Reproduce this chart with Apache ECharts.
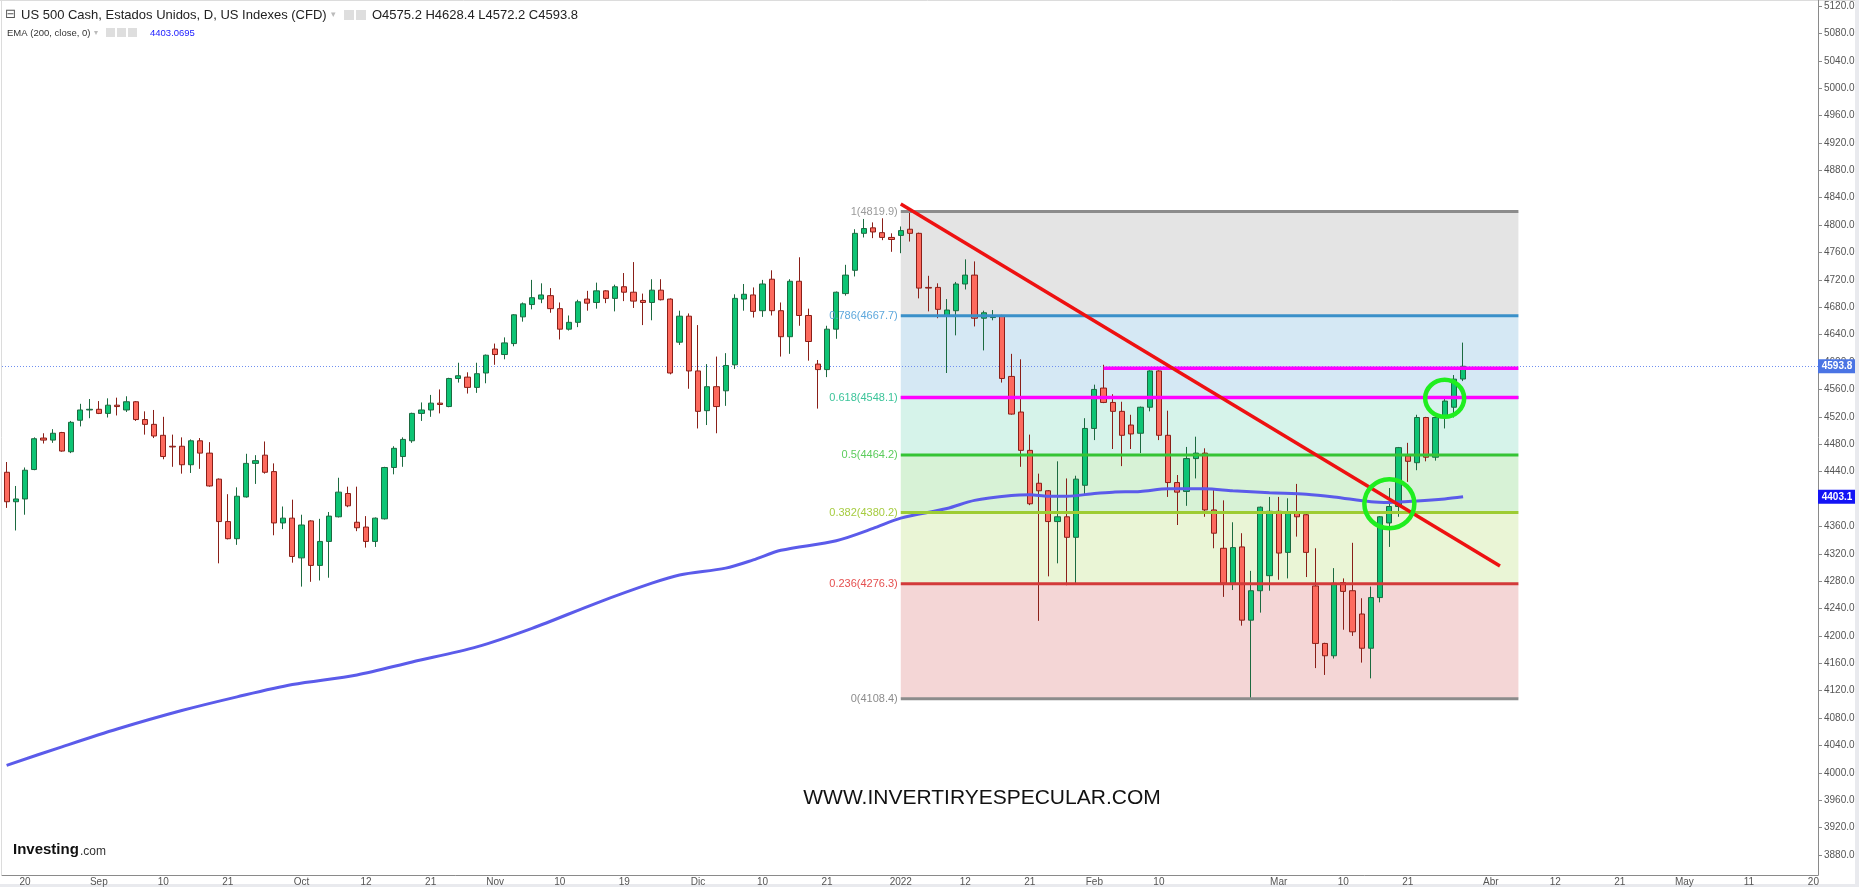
<!DOCTYPE html>
<html><head><meta charset="utf-8">
<script src="https://cdn.jsdelivr.net/npm/echarts@6.0.0/dist/echarts.min.js"></script>
<style>html,body{margin:0;padding:0;background:#fff;}#c{width:1859px;height:887px;}</style>
</head><body><div id="c"></div>
<script>
// ---------- DATA ----------
const tradeDates = [
'2021-08-18','2021-08-19','2021-08-20','2021-08-23','2021-08-24','2021-08-25','2021-08-26','2021-08-27','2021-08-30','2021-08-31',
'2021-09-01','2021-09-02','2021-09-03','2021-09-06','2021-09-07','2021-09-08','2021-09-09','2021-09-10','2021-09-13','2021-09-14','2021-09-15','2021-09-16','2021-09-17','2021-09-20','2021-09-21','2021-09-22','2021-09-23','2021-09-24','2021-09-27','2021-09-28','2021-09-29','2021-09-30',
'2021-10-01','2021-10-04','2021-10-05','2021-10-06','2021-10-07','2021-10-08','2021-10-11','2021-10-12','2021-10-13','2021-10-14','2021-10-15','2021-10-18','2021-10-19','2021-10-20','2021-10-21','2021-10-22','2021-10-25','2021-10-26','2021-10-27','2021-10-28','2021-10-29',
'2021-11-01','2021-11-02','2021-11-03','2021-11-04','2021-11-05','2021-11-08','2021-11-09','2021-11-10','2021-11-11','2021-11-12','2021-11-15','2021-11-16','2021-11-17','2021-11-18','2021-11-19','2021-11-22','2021-11-23','2021-11-24','2021-11-25','2021-11-26','2021-11-29','2021-11-30',
'2021-12-01','2021-12-02','2021-12-03','2021-12-06','2021-12-07','2021-12-08','2021-12-09','2021-12-10','2021-12-13','2021-12-14','2021-12-15','2021-12-16','2021-12-17','2021-12-20','2021-12-21','2021-12-22','2021-12-23','2021-12-27','2021-12-28','2021-12-29','2021-12-30','2021-12-31',
'2022-01-03','2022-01-04','2022-01-05','2022-01-06','2022-01-07','2022-01-10','2022-01-11','2022-01-12','2022-01-13','2022-01-14','2022-01-17','2022-01-18','2022-01-19','2022-01-20','2022-01-21','2022-01-24','2022-01-25','2022-01-26','2022-01-27','2022-01-28','2022-01-31',
'2022-02-01','2022-02-02','2022-02-03','2022-02-04','2022-02-07','2022-02-08','2022-02-09','2022-02-10','2022-02-11','2022-02-14','2022-02-15','2022-02-16','2022-02-17','2022-02-18','2022-02-21','2022-02-22','2022-02-23','2022-02-24','2022-02-25','2022-02-28',
'2022-03-01','2022-03-02','2022-03-03','2022-03-04','2022-03-07','2022-03-08','2022-03-09','2022-03-10','2022-03-11','2022-03-14','2022-03-15','2022-03-16','2022-03-17','2022-03-18','2022-03-21','2022-03-22','2022-03-23','2022-03-24','2022-03-25','2022-03-28','2022-03-29'];
const futureDates = ['2022-03-30','2022-03-31',
'2022-04-01','2022-04-04','2022-04-05','2022-04-06','2022-04-07','2022-04-08','2022-04-11','2022-04-12','2022-04-13','2022-04-14','2022-04-15','2022-04-18','2022-04-19','2022-04-20','2022-04-21','2022-04-22','2022-04-25','2022-04-26','2022-04-27','2022-04-28','2022-04-29',
'2022-05-02','2022-05-03','2022-05-04','2022-05-05','2022-05-06','2022-05-09','2022-05-10','2022-05-11','2022-05-12','2022-05-13','2022-05-16','2022-05-17','2022-05-18','2022-05-19','2022-05-20'];

const open = [4439,4396,4400,4443,4489,4486,4497,4469,4515,4530,
4531,4525,4537,4530,4542,4516,4509,4493,4477,4477,4450,4485,4467,4429,4367,4342,4403,4452,4464,4440,4365,4372,
4314,4368,4303,4338,4374,4408,4366,4359,4338,4371,4446,4462,4485,4525,4530,4540,4535,4576,4578,4563,4584,
4619,4611,4627,4666,4684,4692,4697,4678,4648,4658,4692,4687,4704,4693,4710,4702,4690,4687,4705,4692,4629,4667,
4587,4529,4564,4558,4596,4692,4698,4675,4721,4675,4637,4718,4668,4597,4589,4648,4700,4734,4788,4796,4789,4782,
4785,4794,4788,4709,4709,4667,4675,4714,4727,4664,4665,4667,4579,4527,4471,4423,4412,4367,4374,4344,4420,
4503,4562,4541,4528,4508,4496,4534,4587,4493,4424,4411,4459,4467,4384,4328,4277,4330,4223,4266,4288,
4382,4322,4379,4377,4273,4189,4171,4278,4266,4232,4182,4256,4365,4389,4463,4453,4519,4461,4519,4534,4575.2];
const high = [4454,4419,4446,4490,4496,4502,4498,4514,4539,4546,
4543,4547,4548,4550,4543,4528,4530,4520,4494,4490,4487,4489,4483,4430,4407,4417,4466,4464,4484,4452,4389,4399,
4377,4369,4371,4381,4431,4418,4418,4375,4373,4447,4477,4490,4526,4541,4552,4560,4577,4599,4585,4599,4611,
4627,4636,4670,4687,4720,4715,4708,4687,4668,4691,4704,4716,4705,4713,4730,4746,4700,4721,4721,4693,4675,4671,
4654,4597,4608,4613,4699,4714,4709,4720,4734,4687,4721,4753,4678,4603,4653,4703,4742,4794,4809,4804,4810,4788,
4798,4819.9,4789,4726,4715,4692,4717,4750,4747,4675,4676,4669,4612,4604,4494,4437,4413,4455,4430,4434,4518,
4567,4596,4553,4542,4523,4535,4588,4588,4529,4435,4476,4491,4474,4416,4398,4366,4350,4295,4389,4403,
4403,4401,4422,4378,4328,4190,4299,4284,4336,4255,4272,4375,4416,4476,4482,4523,4520,4523,4546,4581,4628.4];
const low = [4387,4354,4377,4442,4481,4482,4469,4467,4506,4518,
4524,4519,4522,4527,4514,4494,4489,4458,4447,4437,4438,4444,4418,4306,4341,4333,4402,4422,4437,4347,4356,4307,
4272,4279,4281,4285,4373,4388,4353,4329,4330,4370,4436,4447,4482,4514,4520,4525,4534,4570,4554,4555,4569,
4596,4604,4623,4659,4677,4686,4672,4633,4646,4651,4675,4678,4686,4674,4689,4679,4654,4661,4690,4582,4625,4561,
4503,4508,4496,4536,4590,4675,4665,4666,4668,4608,4612,4653,4602,4532,4578,4634,4697,4725,4782,4781,4778,4761,
4759,4776,4693,4674,4664,4584,4639,4706,4652,4617,4661,4570,4523,4447,4391,4222,4287,4306,4274,4277,4406,
4486,4540,4473,4448,4473,4467,4528,4486,4403,4362,4390,4430,4374,4328,4257,4267,4215,4108.4,4234,4266,
4282,4284,4345,4286,4153,4143,4167,4209,4200,4161,4138,4249,4330,4374,4425,4442,4455,4456,4503,4519,4572.2];
const close = [4396,4400,4442,4488,4486,4496,4470,4512,4530,4531,
4525,4537,4535,4542,4516,4509,4492,4462,4476,4450,4485,4467,4419,4367,4342,4404,4452,4456,4439,4365,4372,4316,
4362,4303,4338,4375,4410,4390,4358,4338,4372,4446,4474,4487,4525,4530,4540,4538,4576,4580,4563,4583,4610,
4611,4628,4669,4685,4694,4698,4678,4648,4658,4688,4686,4704,4693,4710,4702,4689,4687,4705,4691,4584,4667,4587,
4528,4564,4535,4595,4693,4699,4674,4714,4675,4637,4718,4668,4630,4589,4648,4702,4727,4788,4795,4790,4782,4779,
4792,4788,4708,4708,4677,4676,4714,4727,4664,4672,4666,4576,4524,4471,4393,4412,4367,4374,4344,4429,4503,
4560,4541,4528,4493,4495,4534,4587,4493,4424,4410,4459,4467,4384,4350,4277,4329,4223,4266,4388,4382,
4321,4379,4374,4322,4189,4171,4277,4265,4206,4182,4256,4374,4389,4475,4455,4519,4461,4519,4543,4575,4593.8];

// EMA(200) read at sample dates
const emaDates = ['2021-08-18','2021-08-26','2021-09-03','2021-09-14','2021-09-22','2021-09-30','2021-10-11','2021-10-19','2021-10-28','2021-11-05',
'2021-11-16','2021-11-24','2021-11-29','2021-12-06','2021-12-09','2021-12-14','2021-12-22','2021-12-29','2022-01-03','2022-01-10','2022-01-13',
'2022-01-19','2022-01-21','2022-01-25','2022-01-27','2022-02-01','2022-02-03','2022-02-08','2022-02-11','2022-02-17','2022-02-22','2022-02-28',
'2022-03-04','2022-03-09','2022-03-15','2022-03-17','2022-03-22','2022-03-25','2022-03-29'];
const emaValues = [4011,4038,4064,4091,4111,4129,4143,4162,4184,4211,
4248,4277,4289,4299,4311,4325,4339,4357,4372,4386,4398,
4405,4406,4404,4404,4408,4410,4411,4415,4415,4412,4409,
4407,4403,4396,4395,4397,4400,4403.1];

const yTicks = [3880,3920,3960,4000,4040,4080,4120,4160,4200,4240,4280,4320,4360,4400,4440,4480,4520,4560,4600,4640,4680,4720,4760,4800,4840,4880,4920,4960,5000,5040,5080,5120];
const xTickDates = ['2021-08-20','2021-09-01','2021-09-10','2021-09-21','2021-10-01','2021-10-12','2021-10-21','2021-11-01','2021-11-10','2021-11-19','2021-12-01','2021-12-10','2021-12-21','2022-01-03','2022-01-12','2022-01-21','2022-02-01','2022-02-10','2022-03-01','2022-03-10','2022-03-21','2022-04-01','2022-04-12','2022-04-21','2022-05-02','2022-05-11','2022-05-20'];
const xTickLabels = ['20','Sep','10','21','Oct','12','21','Nov','10','19','Dic','10','21','2022','12','21','Feb','10','Mar','10','21','Abr','12','21','May','11','20'];

const fibRatios = ['1','0.786','0.618','0.5','0.382','0.236','0'];
const fibValues = [4819.9,4667.7,4548.1,4464.2,4380.2,4276.3,4108.4];
const fibStartDate = '2022-01-03';
const fibEndDate = '2022-04-06';
const trendStart = ['2022-01-03', 4831];
const trendEnd = ['2022-04-04', 4302];
const magentaLines = [['2022-01-03','2022-04-06',4548.1],['2022-02-02','2022-04-06',4591]];
const circleMarks = [['2022-03-17',4393],['2022-03-25',4547]];
const lastPrice = 4593.8;
const emaLast = 4403.1;

// ---------- STYLE ----------
const categories = tradeDates.concat(futureDates);
const candleData = open.map((o,i)=>[o, close[i], low[i], high[i]]);
const emaData = emaDates.map((d,i)=>[d, emaValues[i]]);
const fibLineColors = ['#8c8c8c','#3a90c9','#3cc49a','#35c435','#9dcc33','#d33a3a','#8c8c8c'];
const fibLabelColors = ['#9a9a9a','#5ea8dc','#3cc49a','#5ccc5c','#a6cc40','#e55050','#8c8c8c'];
const fibBandColors = ['#e4e4e4','#d5e8f4','#d6f3ea','#d7f2d6','#eaf5d6','#f4d6d6'];
const circleRadii = [[25,24.5],[19.5,18.5]];
const FONT = '"Liberation Sans", Arial, sans-serif';
const ci = d => categories.indexOf(d);
const tickSet = new Set(xTickDates);
const labelMap = {}; xTickDates.forEach((d,i)=>labelMap[d]=xTickLabels[i]);

function helpers(api){
  const bw = api.size([1,0])[0];
  const X = idx => { const i0 = Math.floor(idx); return api.coord([i0, 4500])[0] + (idx-i0)*bw; };
  const Y = v => api.coord([0, v])[1];
  return {X, Y, bw};
}

const chart = echarts.init(document.getElementById('c'), null, {renderer:'canvas'});
chart.setOption({
  animation: false,
  backgroundColor: '#ffffff',
  textStyle: {fontFamily: FONT},
  grid: {left: 2, right: 41, top: 0, bottom: 12},
  xAxis: {
    type: 'category', data: categories, boundaryGap: true,
    axisLine: {lineStyle: {color: '#8a8a8a'}},
    axisTick: {alignWithLabel: true, length: 4, interval: (i, v) => tickSet.has(v), lineStyle: {color: '#8a8a8a'}},
    axisLabel: {interval: (i, v) => tickSet.has(v), formatter: v => labelMap[v] || '', color: '#555', fontSize: 10, margin: 2},
    splitLine: {show: false}
  },
  yAxis: {
    type: 'value', position: 'right', min: 3850.8, max: 5128.8, scale: true,
    axisLine: {show: true, lineStyle: {color: '#8a8a8a'}},
    axisTick: {show: true, length: 4, customValues: yTicks, lineStyle: {color: '#8a8a8a'}},
    axisLabel: {customValues: yTicks, formatter: v => v.toFixed(1), color: '#555', fontSize: 10, margin: 6},
    splitLine: {show: false}
  },
  series: [
    { // fib bands + current price dotted line (behind candles)
      type: 'custom', z: 1, silent: true, data: [[0, 4500]], encode: {x: 0, y: 1},
      renderItem: (params, api) => {
        const {X, Y} = helpers(api);
        const cs = params.coordSys;
        const x0 = X(ci(fibStartDate)), x1 = X(ci(fibEndDate));
        const ch = [];
        for (let k = 0; k < fibValues.length - 1; k++) {
          const ya = Y(fibValues[k]), yb = Y(fibValues[k+1]);
          ch.push({type: 'rect', shape: {x: x0, y: ya, width: x1 - x0, height: yb - ya}, style: {fill: fibBandColors[k]}});
        }
        const yp = Math.round(Y(lastPrice)) + 0.5;
        ch.push({type: 'line', shape: {x1: cs.x, y1: yp, x2: cs.x + cs.width, y2: yp}, style: {stroke: '#6f8ff0', lineWidth: 1, lineDash: [1, 2]}});
        return {type: 'group', children: ch};
      }
    },
    {
      type: 'candlestick', z: 3, data: candleData, barWidth: '62%',
      itemStyle: {color: '#0dc474', color0: '#fd6a5e', borderColor: '#1c6a40', borderColor0: '#8a1f18', borderWidth: 1}
    },
    {
      type: 'line', z: 4, data: emaData, smooth: 0.3, symbol: 'none', silent: true,
      lineStyle: {color: '#5b5bea', width: 3}
    },
    { // drawings on top
      type: 'custom', z: 10, silent: true, data: [[0, 4500]], encode: {x: 0, y: 1},
      renderItem: (params, api) => {
        const {X, Y} = helpers(api);
        const cs = params.coordSys;
        const x0 = X(ci(fibStartDate)), x1 = X(ci(fibEndDate));
        const ch = [];
        fibValues.forEach((v, k) => {
          const y = Y(v);
          ch.push({type: 'line', shape: {x1: x0, y1: y, x2: x1, y2: y}, style: {stroke: fibLineColors[k], lineWidth: 3}});
          ch.push({type: 'text', style: {x: x0 - 3, y: y, text: fibRatios[k] + '(' + v.toFixed(1) + ')', fill: fibLabelColors[k],
            font: '11px ' + FONT, align: 'right', verticalAlign: 'middle', textAlign: 'right', textVerticalAlign: 'middle'}});
        });
        magentaLines.forEach(m => {
          const y = Y(m[2]);
          ch.push({type: 'line', shape: {x1: X(ci(m[0])), y1: y, x2: X(ci(m[1])), y2: y}, style: {stroke: '#ff00ff', lineWidth: 3.5}});
        });
        ch.push({type: 'line', shape: {x1: X(ci(trendStart[0])), y1: Y(trendStart[1]), x2: X(ci(trendEnd[0])), y2: Y(trendEnd[1])},
          style: {stroke: '#ee1111', lineWidth: 3.5}});
        circleMarks.forEach((c, k) => {
          ch.push({type: 'ellipse', shape: {cx: X(ci(c[0])), cy: Y(c[1]), rx: circleRadii[k][0], ry: circleRadii[k][1]},
            style: {fill: 'none', stroke: '#1fee1f', lineWidth: 4.5}});
        });
        const xr = cs.x + cs.width;
        [[lastPrice, '#4a74e4'], [emaLast, '#1414f5']].forEach(t => {
          const y = Y(t[0]);
          ch.push({type: 'rect', shape: {x: xr, y: y - 7, width: 37, height: 14}, style: {fill: t[1]}});
          ch.push({type: 'text', style: {x: xr + 19, y: y, text: t[0].toFixed(1), fill: '#fff', font: 'bold 10px ' + FONT,
            align: 'center', verticalAlign: 'middle', textAlign: 'center', textVerticalAlign: 'middle'}});
        });
        return {type: 'group', children: ch};
      }
    }
  ],
  graphic: [
    {type: 'rect', shape: {x: 1855, y: 0, width: 4, height: 887}, style: {fill: '#e9eaee'}, silent: true},
    {type: 'rect', shape: {x: 0, y: 884, width: 1859, height: 3}, style: {fill: '#e9eaee'}, silent: true},
    {type: 'line', shape: {x1: 0, y1: 0.5, x2: 1855, y2: 0.5}, style: {stroke: '#dcdcdc'}, silent: true},
    {type: 'line', shape: {x1: 1.5, y1: 0, x2: 1.5, y2: 875}, style: {stroke: '#dcdcdc'}, silent: true},
    {type: 'text', x: 5, y: 15, style: {text: '⊟', fill: '#555', font: '13px DejaVu Sans', textVerticalAlign: 'middle', verticalAlign: 'middle'}},
    {type: 'text', x: 21, y: 15, style: {text: 'US 500 Cash, Estados Unidos, D, US Indexes (CFD)', fill: '#222', font: '13px ' + FONT, textVerticalAlign: 'middle', verticalAlign: 'middle'}},
    {type: 'text', x: 331, y: 15, style: {text: '▾', fill: '#bbb', font: '9px DejaVu Sans', textVerticalAlign: 'middle', verticalAlign: 'middle'}},
    {type: 'rect', shape: {x: 344, y: 10, width: 10, height: 10}, style: {fill: '#dedede'}},
    {type: 'rect', shape: {x: 356, y: 10, width: 10, height: 10}, style: {fill: '#dedede'}},
    {type: 'text', x: 372, y: 15, style: {text: 'O4575.2 H4628.4 L4572.2 C4593.8', fill: '#222', font: '13px ' + FONT, textVerticalAlign: 'middle', verticalAlign: 'middle'}},
    {type: 'text', x: 7, y: 33, style: {text: 'EMA (200, close, 0)', fill: '#333', font: '9.5px ' + FONT, textVerticalAlign: 'middle', verticalAlign: 'middle'}},
    {type: 'text', x: 94, y: 33, style: {text: '▾', fill: '#bbb', font: '8px DejaVu Sans', textVerticalAlign: 'middle', verticalAlign: 'middle'}},
    {type: 'rect', shape: {x: 106, y: 28, width: 9, height: 9}, style: {fill: '#dedede'}},
    {type: 'rect', shape: {x: 117, y: 28, width: 9, height: 9}, style: {fill: '#dedede'}},
    {type: 'rect', shape: {x: 128, y: 28, width: 9, height: 9}, style: {fill: '#dedede'}},
    {type: 'text', x: 150, y: 33, style: {text: '4403.0695', fill: '#1a1aff', font: '9.5px ' + FONT, textVerticalAlign: 'middle', verticalAlign: 'middle'}},
    {type: 'text', x: 982, y: 798, style: {text: 'WWW.INVERTIRYESPECULAR.COM', fill: '#111', font: '21px ' + FONT, textAlign: 'center', align: 'center', textVerticalAlign: 'middle', verticalAlign: 'middle'}},
    {type: 'text', x: 13, y: 850, style: {text: 'Investing', fill: '#111', font: 'bold 15px ' + FONT, textVerticalAlign: 'middle', verticalAlign: 'middle'}},
    {type: 'text', x: 80, y: 852, style: {text: '.com', fill: '#333', font: '12px ' + FONT, textVerticalAlign: 'middle', verticalAlign: 'middle'}}
  ]
});
</script></body></html>
